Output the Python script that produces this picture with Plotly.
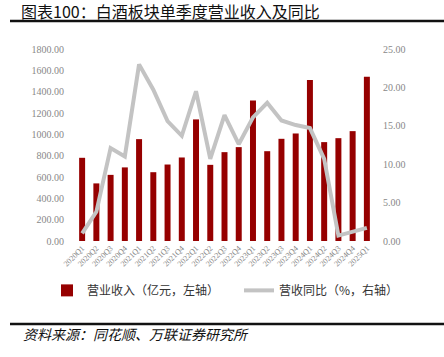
import plotly.graph_objects as go

categories = ["2020Q1","2020Q2","2020Q3","2020Q4","2021Q1","2021Q2","2021Q3","2021Q4",
              "2022Q1","2022Q2","2022Q3","2022Q4","2023Q1","2023Q2","2023Q3","2023Q4",
              "2024Q1","2024Q2","2024Q3","2024Q4","2025Q1"]
revenue = [780, 540, 620, 690, 955, 645, 717, 783, 1140, 714, 833, 880, 1318, 842, 958, 1008,
           1509, 927, 964, 1030, 1540]
yoy = [1.0, 3.8, 12.1, 11.0, 23.0, 19.7, 15.6, 13.7, 19.5, 10.7, 16.4, 12.6, 16.1, 18.0, 15.7,
       15.1, 14.7, 10.7, 0.7, 1.2, 1.7]
left_ticks = [0, 200, 400, 600, 800, 1000, 1200, 1400, 1600, 1800]
right_ticks = [0, 5, 10, 15, 20, 25]

W, H = 444, 357
L, R, T, B = 75, 374, 49, 240.7

def px(x):
    return (x - L) / (R - L)

def py(y):
    return (B - y) / (B - T)

serif = "Liberation Serif, Noto Sans CJK SC, serif"
cjk = "Noto Sans CJK SC, sans-serif"

fig = go.Figure()
fig.add_trace(go.Bar(x=categories, y=revenue, name="营业收入（亿元，左轴）",
                     marker=dict(color="#960000", line=dict(width=0)), width=0.42, yaxis="y",
                     legend="legend"))
fig.add_trace(go.Scatter(x=categories, y=yoy, name="营收同比（%，右轴）", mode="lines",
                         line=dict(color="#c3c3c3", width=4), yaxis="y2", legend="legend2"))

legend_common = dict(orientation="h", xanchor="left", yanchor="middle",
                     font=dict(family=cjk, size=12, color="#333333"),
                     itemwidth=30, bgcolor="rgba(0,0,0,0)", borderwidth=0)

fig.update_layout(
    width=W, height=H,
    margin=dict(l=L, r=W - R, t=T, b=H - B, autoexpand=False),
    paper_bgcolor="white", plot_bgcolor="white",
    showlegend=True,
    legend=dict(x=px(47), y=py(290), **legend_common),
    legend2=dict(x=px(239), y=py(290), **legend_common),
    xaxis=dict(type="category", tickangle=-45, tickfont=dict(family=serif, size=8, color="#888888"),
               showgrid=False, showline=False, ticks="", zeroline=False, automargin=False),
    yaxis=dict(range=[0, 1800], tickvals=left_ticks, ticktext=[f"{v:.2f}" for v in left_ticks],
               tickfont=dict(family=serif, size=10, color="#888888"), showgrid=False,
               zeroline=False, showline=False, ticks="", ticklabelstandoff=10, automargin=False),
    yaxis2=dict(range=[0, 25], tickvals=right_ticks, ticktext=[f"{v:.2f}" for v in right_ticks],
                overlaying="y", side="right", tickfont=dict(family=serif, size=10, color="#888888"),
                showgrid=False, zeroline=False, showline=False, ticks="", ticklabelstandoff=8,
                automargin=False),
)

fig.add_annotation(text="图表100：白酒板块单季度营业收入及同比", xref="paper", yref="paper",
                   x=px(19), y=py(11), xanchor="left", yanchor="middle", showarrow=False,
                   font=dict(family=cjk, size=16, color="#111111"))
fig.add_annotation(text="<i>资料来源：同花顺、万联证券研究所</i>", xref="paper", yref="paper",
                   x=px(21), y=py(334), xanchor="left", yanchor="middle", showarrow=False,
                   font=dict(family=cjk, size=14, color="#111111"))
for yy in (21, 323.5):
    fig.add_shape(type="line", xref="paper", yref="paper", x0=px(10), x1=px(444),
                  y0=py(yy), y1=py(yy), line=dict(color="#111111", width=2.5))

fig.write_html("out.html", config={"displayModeBar": False},
               post_script="document.body.style.margin='0';document.body.style.overflow='hidden';")
